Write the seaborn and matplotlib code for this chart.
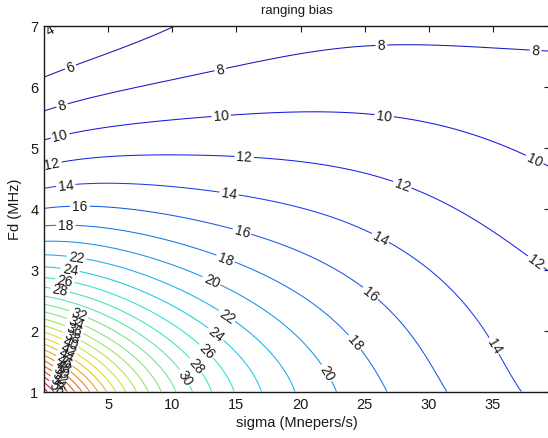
import numpy as np
import matplotlib
matplotlib.use("Agg")
import matplotlib.pyplot as plt
import seaborn as sns

# ---------------- data ----------------
# points (sigma [Mnepers/s], Fd [MHz]) lying on each contour level of the ranging bias
lev04_sigma = [0.0, 0.6, 1.35]
lev04_fd = [6.90, 6.94, 7.00]
lev06_sigma = [0.0, 2.1, 5.0, 7.6, 9.7]
lev06_fd = [6.14, 6.32, 6.56, 6.75, 7.00]
lev08_sigma = [0.0, 1.5, 7.6, 13.7, 15.4, 20.0, 26.3, 30.4, 35.6, 38.8]
lev08_fd = [5.62, 5.65, 5.93, 6.32, 6.41, 6.55, 6.70, 6.70, 6.63, 6.53]
lev10_sigma = [0.0, 0.8, 5.2, 12.25, 20.0, 27.1, 31.0, 34.9, 36.6, 37.7, 38.8]
lev10_fd = [5.10, 5.19, 5.31, 5.54, 5.57, 5.50, 5.36, 5.14, 4.98, 4.86, 4.78]
lev12_sigma = [0.0, 8.4, 15.1, 20.0, 26.3, 28.4, 31.5, 34.1, 36.6, 38.5, 39.3]
lev12_fd = [4.75, 4.88, 4.82, 4.76, 4.49, 4.32, 4.04, 3.72, 3.34, 3.12, 2.97]
lev14_sigma = [0.0, 8.4, 15.1, 20.0, 26.8, 31.7, 33.5, 35.1, 37.4]
lev14_fd = [4.38, 4.40, 4.22, 3.99, 3.45, 2.68, 2.22, 1.75, 1.00]
lev16_sigma = [0.0, 8.4, 16.9, 20.0, 22.9, 26.3, 28.8, 31.3]
lev16_fd = [4.00, 3.93, 3.62, 3.34, 3.01, 2.60, 1.95, 1.00]
lev18_sigma = [0.0, 8.4, 14.2, 20.0, 24.0, 26.6]
lev18_fd = [3.75, 3.55, 3.21, 2.57, 1.86, 1.00]
lev20_sigma = [0.0, 8.4, 13.0, 16.2, 20.0, 22.6]
lev20_fd = [3.48, 3.12, 2.79, 2.40, 1.65, 1.00]
lev22_sigma = [0.0, 8.4, 14.2, 17.0, 19.8]
lev22_fd = [3.23, 2.78, 2.22, 1.72, 1.00]
lev24_sigma = [0.0, 7.0, 13.3, 17.2]
lev24_fd = [3.00, 2.68, 1.91, 1.00]
lev26_sigma = [0.0, 6.5, 12.6, 15.0]
lev26_fd = [2.85, 2.53, 1.68, 1.00]
lev28_sigma = [0.0, 6.0, 11.7, 13.4]
lev28_fd = [2.72, 2.41, 1.45, 1.00]
lev30_sigma = [0.0, 5.5, 10.9, 11.7]
lev30_fd = [2.55, 2.28, 1.30, 1.00]
# steep corner near the origin: levels 32..60, crossing of left edge, middle, bottom edge
hi_levels = [32, 34, 36, 38, 40, 42, 44, 46, 48, 50, 52, 54, 56, 58, 60]
hi_left_fd = [2.41, 2.28, 2.16, 2.05, 1.94, 1.84, 1.74, 1.65, 1.56, 1.47, 1.39, 1.31, 1.23, 1.16, 1.09]
hi_mid_sigma = [6.66, 5.86, 5.15, 4.50, 3.93, 3.41, 2.94, 2.50, 2.11, 1.74, 1.41, 1.10, 0.80, 0.54, 0.29]
hi_mid_fd = [1.914, 1.829, 1.752, 1.680, 1.609, 1.544, 1.480, 1.421, 1.363, 1.305, 1.253, 1.201, 1.149, 1.104, 1.058]
hi_bottom_sigma = [10.28, 9.04, 7.94, 6.95, 6.06, 5.26, 4.53, 3.86, 3.25, 2.69, 2.17, 1.69, 1.24, 0.83, 0.44]
# values between contour lines, read at the plot edges
edge_sigma = [0.0, 18.0, 28.0, 39.4, 39.4, 39.4, 0.0]
edge_fd = [7.0, 7.0, 7.0, 7.0, 2.0, 1.0, 1.0]
edge_bias = [3.75, 6.95, 7.5, 7.45, 12.8, 13.4, 62.5]

contour_levels = list(range(4, 64, 2))
x_ticks = [5, 10, 15, 20, 25, 30, 35]
y_ticks = [1, 2, 3, 4, 5, 6, 7]

# ---------------- assemble samples ----------------
pts = []
traces = {4: (lev04_sigma, lev04_fd), 6: (lev06_sigma, lev06_fd), 8: (lev08_sigma, lev08_fd),
          10: (lev10_sigma, lev10_fd), 12: (lev12_sigma, lev12_fd), 14: (lev14_sigma, lev14_fd),
          16: (lev16_sigma, lev16_fd), 18: (lev18_sigma, lev18_fd), 20: (lev20_sigma, lev20_fd),
          22: (lev22_sigma, lev22_fd), 24: (lev24_sigma, lev24_fd), 26: (lev26_sigma, lev26_fd),
          28: (lev28_sigma, lev28_fd), 30: (lev30_sigma, lev30_fd)}
for L, (xs_, ys_) in traces.items():
    for a, b in zip(xs_, ys_):
        pts.append((a, b, L))
for L, yl, xm, ym, xb in zip(hi_levels, hi_left_fd, hi_mid_sigma, hi_mid_fd, hi_bottom_sigma):
    pts += [(0.0, yl, L), (xm, ym, L), (xb, 1.0, L)]
for a, b, c in zip(edge_sigma, edge_fd, edge_bias):
    pts.append((a, b, c))
pts = np.array(pts, dtype=float)
px, py, pz = pts[:, 0], pts[:, 1], pts[:, 2]

DEG = 6
def design(x, y):
    u = np.asarray(x, float) / 19.7 - 1.0
    v = (np.asarray(y, float) - 4.0) / 3.0
    Vu = np.polynomial.chebyshev.chebvander(u, DEG)
    Vv = np.polynomial.chebyshev.chebvander(v, DEG)
    cols = [Vu[..., i] * Vv[..., j] for i in range(DEG + 1) for j in range(DEG + 1 - i)]
    return np.stack(cols, axis=-1)

A = design(px, py)
t = np.log(pz)
w = np.ones_like(t)
h = 1e-3
for _ in range(5):
    coef, *_ = np.linalg.lstsq(A * w[:, None], t * w, rcond=None)
    fx = (design(px + h, py) @ coef - design(px - h, py) @ coef) / (2 * h) / 12.83
    fy = (design(px, py + h) @ coef - design(px, py - h) @ coef) / (2 * h) / 61.0
    w = 1.0 / np.maximum(np.hypot(fx, fy), 1e-4)

def field(x, y):
    return np.exp(design(x, y) @ coef)

gx = np.linspace(0, 39.4, 400)
gy = np.linspace(1, 7, 300)
GX, GY = np.meshgrid(gx, gy)
GZ = field(GX, GY)

# ---------------- plot ----------------
sns.set_theme(style="white")
plt.rcParams['font.family'] = ['Liberation Sans', 'DejaVu Sans']

fig = plt.figure(figsize=(5.48, 4.39), dpi=100)
ax = fig.add_axes([44 / 548, 1 - 392.5 / 439, 505.5 / 548, 365.8 / 439])

jet = plt.get_cmap('jet')
norm = plt.Normalize(4, 62)
line_colors = [tuple(0.8 * np.array(jet(norm(L))[:3]) + 0.2 * np.array([0.45, 0.45, 0.6]))
               for L in contour_levels]
cs = ax.contour(GX, GY, GZ, levels=contour_levels, colors=line_colors, linewidths=0.75)

label_pos = [(0.56, 6.9), (2.1, 6.3), (1.5, 5.63), (13.7, 6.32), (26.3, 6.68), (38.3, 6.53),
             (1.3, 5.15), (13.8, 5.55), (26.5, 5.49), (38.3, 4.83),
             (0.6, 4.76), (15.6, 4.81), (27.8, 4.32), (38.3, 3.12),
             (1.7, 4.37), (14.4, 4.22), (26.1, 3.47), (35.1, 1.75),
             (2.8, 3.96), (15.4, 3.6), (26.1, 2.78),
             (1.7, 3.7), (14.2, 3.21), (24.2, 1.8),
             (13.0, 2.79), (22.0, 1.3),
             (2.5, 3.15), (14.2, 2.22),
             (2.0, 2.95), (13.3, 1.91),
             (1.6, 2.78), (12.6, 1.65),
             (1.2, 2.62), (11.7, 1.4),
             (10.9, 1.22)]
tt = np.linspace(0, 1, 3000)
sx = 2.75 + (0.95 - 2.75) * tt
sy = 2.3 + (1.06 - 2.3) * tt
sz = field(sx, sy)
for L in hi_levels + [62]:
    if sz.max() >= L and sz[0] < L:
        k = int(np.argmax(sz >= L))
        label_pos.append((sx[k], sy[k]))

ax.clabel(cs, inline=True, inline_spacing=2, fmt='%d', fontsize=10, colors='k', manual=label_pos)

ax.set_xlim(0, 39.4)
ax.set_ylim(1, 7)
ax.set_xticks(x_ticks)
ax.set_yticks(y_ticks)
ax.tick_params(direction='in', length=4, width=0.8, top=True, right=True, labelsize=10.5,
               colors='k', pad=4)
for s in ax.spines.values():
    s.set_color('k')
    s.set_linewidth(1.0)
ax.set_xlabel('sigma (Mnepers/s)', fontsize=10.5, color='k', labelpad=3)
ax.set_ylabel('Fd (MHz)', fontsize=10.5, color='k', labelpad=6)
ax.set_title('ranging bias', fontsize=9.5, color='k', pad=9)

fig.savefig('out.png', dpi=100)
